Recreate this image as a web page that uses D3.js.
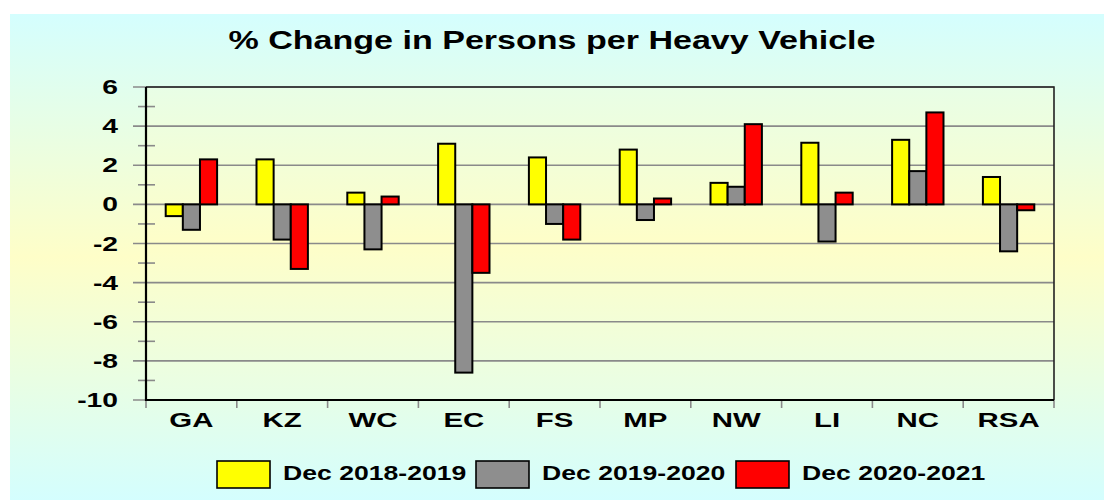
<!DOCTYPE html>
<html>
<head>
<meta charset="utf-8">
<script src="https://cdn.jsdelivr.net/npm/d3@7"></script>
<style>
  body { margin: 0; background: #fff; }
  svg { display: block; }
  text { font-family: "Liberation Sans", Arial, sans-serif; font-weight: bold; fill: #000; }
</style>
</head>
<body>
<svg width="1104" height="500"></svg>
<script>
"use strict";

var categories = ["GA", "KZ", "WC", "EC", "FS", "MP", "NW", "LI", "NC", "RSA"];
var seriesNames = ["Dec 2018-2019", "Dec 2019-2020", "Dec 2020-2021"];
var dec2019 = [-0.6, 2.3, 0.6, 3.1, 2.4, 2.8, 1.1, 3.15, 3.3, 1.4];
var dec2020 = [-1.3, -1.8, -2.3, -8.6, -1.0, -0.8, 0.9, -1.9, 1.7, -2.4];
var dec2021 = [2.3, -3.3, 0.4, -3.5, -1.8, 0.3, 4.1, 0.6, 4.7, -0.3];
var yTicks = [6, 4, 2, 0, -2, -4, -6, -8, -10];
var yMinor = [5, 3, 1, -1, -3, -5, -7, -9];
var colors = ["#ffff00", "#8e8e8e", "#ff0000"];

var allSeries = [dec2019, dec2020, dec2021];

var svg = d3.select("svg");
var width = 1104, height = 500;
var plotLeft = 146, plotRight = 1054, plotTop = 87, plotBottom = 400;

var defs = svg.append("defs");
function vGrad(id, stops) {
  var g = defs.append("linearGradient").attr("id", id)
      .attr("x1", 0).attr("y1", 0).attr("x2", 0).attr("y2", 1);
  stops.forEach(function(s) {
    g.append("stop").attr("offset", s[0]).attr("stop-color", s[1]);
  });
}
vGrad("bgGrad", [[0, "#d4fefe"], [0.5, "#fefec8"], [1, "#d4fefe"]]);
vGrad("plotGrad", [[0, "#e8fee6"], [0.5, "#fefec8"], [1, "#e8fee6"]]);

svg.append("rect").attr("x", 10).attr("y", 14)
    .attr("width", width - 10).attr("height", height - 14)
    .attr("fill", "url(#bgGrad)");

var x = d3.scaleBand().domain(categories).range([plotLeft, plotRight]);
var y = d3.scaleLinear().domain([-10, 6]).range([plotBottom, plotTop]);
var inner = d3.scaleBand().domain(d3.range(3))
    .range([0, x.bandwidth() * 0.566]);
var groupOffset = (x.bandwidth() - inner.range()[1]) / 2;

svg.append("rect").attr("x", plotLeft).attr("y", plotTop)
    .attr("width", plotRight - plotLeft).attr("height", plotBottom - plotTop)
    .attr("fill", "url(#plotGrad)");

// gridlines and major ticks
svg.append("g").selectAll("line").data(yTicks).enter().append("line")
    .attr("x1", plotLeft - 13).attr("x2", plotRight)
    .attr("y1", function(d) { return y(d); })
    .attr("y2", function(d) { return y(d); })
    .attr("stroke", "#8a8a8a").attr("stroke-width", 1.6);

// minor ticks crossing the axis
svg.append("g").selectAll("line").data(yMinor).enter().append("line")
    .attr("x1", plotLeft - 8).attr("x2", plotLeft + 9)
    .attr("y1", function(d) { return y(d); })
    .attr("y2", function(d) { return y(d); })
    .attr("stroke", "#8a8a8a").attr("stroke-width", 1.6);

// category ticks
var bounds = categories.map(function(c) { return x(c); }).concat([plotRight]);
svg.append("g").selectAll("line").data(bounds).enter().append("line")
    .attr("x1", function(d) { return d; }).attr("x2", function(d) { return d; })
    .attr("y1", plotBottom).attr("y2", plotBottom + 8)
    .attr("stroke", "#8a8a8a").attr("stroke-width", 1.6);

// frame
svg.append("path")
    .attr("d", "M" + plotLeft + "," + plotTop + "H" + plotRight + "V" + plotBottom)
    .attr("fill", "none").attr("stroke", "#222").attr("stroke-width", 1.6);

// bars
allSeries.forEach(function(vals, si) {
  svg.append("g").selectAll("rect").data(vals).enter().append("rect")
      .attr("x", function(d, i) { return x(categories[i]) + groupOffset + inner(si); })
      .attr("width", inner.bandwidth())
      .attr("y", function(d) { return y(Math.max(0, d)); })
      .attr("height", function(d) { return Math.abs(y(d) - y(0)); })
      .attr("fill", colors[si])
      .attr("stroke", "#000").attr("stroke-width", 2);
});

// axes lines
svg.append("path")
    .attr("d", "M" + plotLeft + "," + plotTop + "V" + plotBottom + "H" + plotRight)
    .attr("fill", "none").attr("stroke", "#000").attr("stroke-width", 2.2);

// the original text is drawn wide, so stretch it horizontally
function wideText(g, tx, ty, str, size, anchor, k) {
  return g.append("text")
      .attr("transform", "translate(" + tx + "," + ty + ") scale(" + k + ",1)")
      .attr("text-anchor", anchor)
      .style("font-size", size + "px")
      .text(str);
}

// y tick labels
var yl = svg.append("g");
yTicks.forEach(function(t) {
  wideText(yl, 118, y(t) + 7, t, 19.5, "end", 1.45);
});

// x labels
var xl = svg.append("g");
categories.forEach(function(c) {
  wideText(xl, x(c) + x.bandwidth() / 2, 427, c, 21, "middle", 1.4);
});

// title
wideText(svg, width / 2, 49, "% Change in Persons per Heavy Vehicle", 26, "middle", 1.31);

// legend
var legendX = [217, 476, 736];
var lg = svg.append("g");
seriesNames.forEach(function(s, i) {
  lg.append("rect").attr("x", legendX[i]).attr("y", 461)
      .attr("width", 53).attr("height", 27)
      .attr("fill", colors[i]).attr("stroke", "#000").attr("stroke-width", 1.6);
  wideText(lg, legendX[i] + 66, 479.5, s, 20, "start", 1.33);
});
</script>
</body>
</html>
